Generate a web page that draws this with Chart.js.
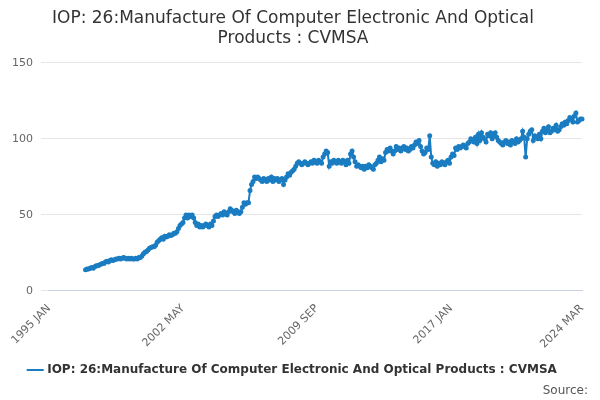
<!DOCTYPE html>
<html>
<head>
<meta charset="utf-8">
<script src="https://cdn.jsdelivr.net/npm/chart.js@4"></script>
<style>
  body { margin: 0; background: #fff; font-family: "DejaVu Sans", sans-serif; }
  #wrap { position: relative; width: 600px; height: 400px; }
  #source { position: absolute; right: 12px; bottom: 3px; font-size: 12px; color: #555; }
</style>
</head>
<body>
<div id="wrap">
  <canvas id="chart" width="600" height="400"></canvas>
  <div id="source">Source:</div>
</div>
<script>
// DATA
const seriesName = 'IOP: 26:Manufacture Of Computer Electronic And Optical Products : CVMSA';
const startYear = 1995;
const months = ['JAN','FEB','MAR','APR','MAY','JUN','JUL','AUG','SEP','OCT','NOV','DEC'];
const tickLabels = ['1995 JAN', '2002 MAY', '2009 SEP', '2017 JAN', '2024 MAR'];
const yTicks = [0, 50, 100, 150];

const v1995 = [null,null,null,null,null,null,null,null,null,null,null,null];
const v1996 = [null,null,null,null,null,null,null,null,null,null,null,null];
const v1997 = [14,14.5,14.5,15,15.5,15,16,16.5,16.5,17,17.5,18];
const v1998 = [18,19,19.5,19,20,20.5,20,20.5,21,21,21.5,21];
const v1999 = [21.5,22,21.5,21,21.5,21,21.5,21,21,21.5,21,22];
const v2000 = [22,23,24.5,25.5,26,27,28,28.5,29,29,30,32];
const v2001 = [33,34,35,34,36,35.5,36,37,36.5,37,38,38];
const v2002 = [39,41,43,44,45,48,50,48,50,49,50,48];
const v2003 = [45,43,44,42,43,42,43,44,43,42,44,43];
const v2004 = [46,49,50,49,50,51,50,52,51,50,52,54];
const v2005 = [53,52,51,53,52,51,52,55,58,57,58,58];
const v2006 = [66,70,72,75,74,75,74,73,72,74,73,72];
const v2007 = [74,73,75,72,74,73,74,72,73,74,70,73];
const v2008 = [75,77,76,78,79,80,82,84,85,84,83,84];
const v2009 = [85,84,83,84,85,84,86,85,84,86,85,84];
const v2010 = [88,90,92,91,82,85,84,86,85,84,86,85];
const v2011 = [84,86,85,83,86,84,90,92,88,85,82,83];
const v2012 = [82,81,82,80,82,81,83,82,81,80,83,84];
const v2013 = [86,88,85,87,86,91,93,92,94,92,90,92];
const v2014 = [95,93,94,92,94,95,93,94,92,93,95,94];
const v2015 = [96,98,97,99,95,92,90,91,94,93,102,88];
const v2016 = [84,83,85,82,84,83,85,84,83,85,86,84];
const v2017 = [88,90,89,94,93,95,94,95,96,95,94,97];
const v2018 = [98,100,99,98,101,97,103,99,104,101,100,98];
const v2019 = [103,102,104,100,102,104,101,99,98,97,96,98];
const v2020 = [99,97,98,96,99,98,97,100,98,99,100,105];
const v2021 = [101,88,100,103,105,106,99,102,101,100,103,100];
const v2022 = [105,107,104,106,108,104,105,107,106,109,105,106];
const v2023 = [108,110,109,111,110,112,114,113,111,115,117,111];
const v2024 = [112,113,113];

const values = [].concat(v1995, v1996, v1997, v1998, v1999, v2000, v2001, v2002, v2003,
  v2004, v2005, v2006, v2007, v2008, v2009, v2010, v2011, v2012, v2013, v2014, v2015,
  v2016, v2017, v2018, v2019, v2020, v2021, v2022, v2023, v2024);
const labels = values.map((_, i) => (startYear + Math.floor(i / 12)) + ' ' + months[i % 12]);

const blue = '#1a7cc1';

new Chart(document.getElementById('chart'), {
    type: 'line',
    data: {
        labels: labels,
        datasets: [{
            label: seriesName,
            data: values,
            borderColor: blue,
            backgroundColor: blue,
            borderWidth: 2,
            pointRadius: 1.5,
            pointHoverRadius: 3,
            tension: 0
        }]
    },
    options: {
        responsive: false,
        animation: false,
        layout: { padding: { left: 4, right: 18, top: 0, bottom: 14 } },
        plugins: {
            title: {
                display: true,
                text: ['IOP: 26:Manufacture Of Computer Electronic And Optical', 'Products : CVMSA'],
                color: '#333',
                font: { family: 'DejaVu Sans', size: 17, weight: 'normal' },
                padding: { top: 8, bottom: 14 }
            },
            legend: {
                position: 'bottom',
                labels: {
                    color: '#333',
                    font: { family: 'DejaVu Sans', size: 12, weight: 'bold' },
                    usePointStyle: true,
                    pointStyle: 'line',
                    boxWidth: 20
                }
            },
            tooltip: { enabled: false }
        },
        scales: {
            x: {
                grid: { display: false },
                border: { color: '#c8d2e0' },
                ticks: {
                    autoSkip: false,
                    maxRotation: 45,
                    minRotation: 45,
                    color: '#666',
                    font: { family: 'DejaVu Sans', size: 11 },
                    callback: function (val) {
                        const l = labels[val];
                        return tickLabels.includes(l) ? l : null;
                    }
                }
            },
            y: {
                min: 0,
                max: 150,
                afterBuildTicks: axis => { axis.ticks = yTicks.map(v => ({ value: v })); },
                grid: { color: '#e6e6e6' },
                border: { display: false },
                ticks: { color: '#666', font: { family: 'DejaVu Sans', size: 11 }, padding: 8 }
            }
        }
    }
});
</script>
</body>
</html>
